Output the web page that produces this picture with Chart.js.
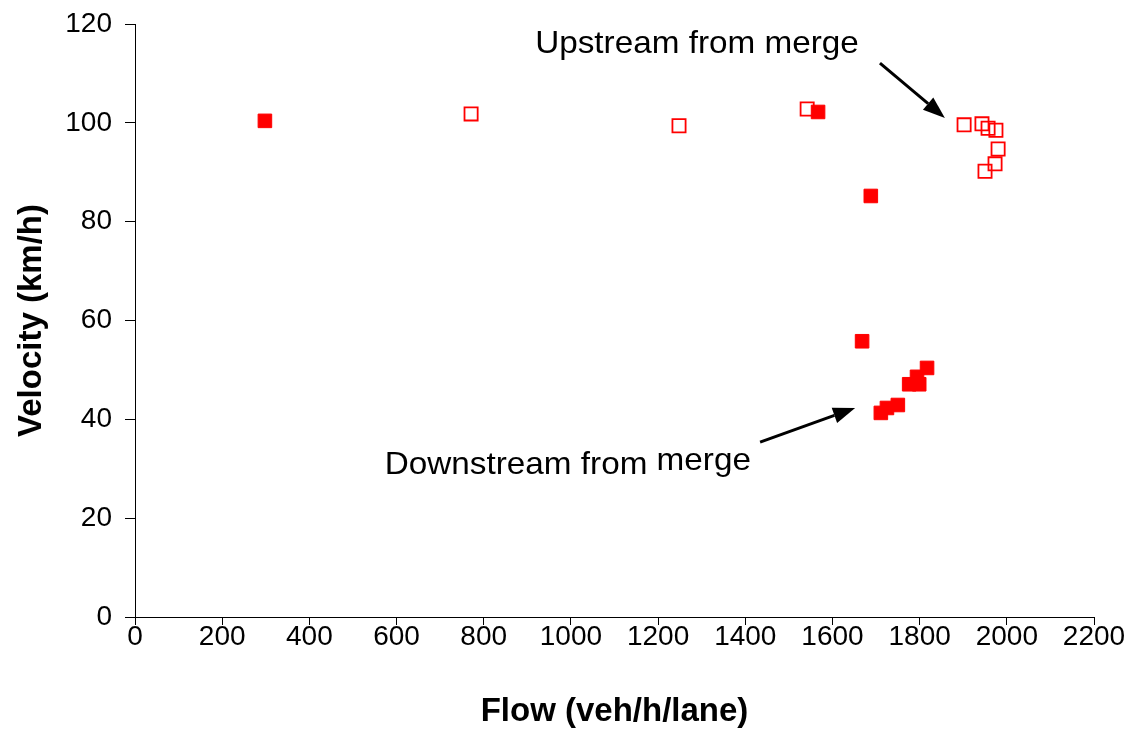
<!DOCTYPE html>
<html>
<head>
<meta charset="utf-8">
<script src="https://cdn.jsdelivr.net/npm/chart.js@4/dist/chart.umd.min.js"></script>
<style>
  html, body { margin: 0; padding: 0; background: #fff; }
  #wrap { width: 1137px; height: 729px; }
</style>
</head>
<body>
<div id="wrap"><canvas id="c" width="1137" height="729"></canvas></div>
<script>
// Upstream from merge (open squares)
const upstreamFlow = [771, 1248, 1542, 1902, 1943, 1957, 1975, 1980, 1973, 1950];
const upstreamVelocity = [101.8, 99.4, 102.8, 99.6, 99.8, 98.9, 98.5, 94.7, 91.7, 90.2];

// Downstream from merge (filled squares)
const downstreamFlow = [298, 1567, 1688, 1668, 1817, 1794, 1776, 1799, 1750, 1725, 1711];
const downstreamVelocity = [100.4, 102.2, 85.2, 55.8, 50.4, 48.6, 47.1, 47.1, 42.9, 42.3, 41.3];

const xTicks = [0, 200, 400, 600, 800, 1000, 1200, 1400, 1600, 1800, 2000, 2200];
const yTicks = [0, 20, 40, 60, 80, 100, 120];

const xTitle = 'Flow (veh/h/lane)';
const yTitle = 'Velocity (km/h)';

// Annotations (in data units); each has text parts with a vertical lift in px
const annotations = [
  { parts: [['Upstream from merge', 0]], x: 918, y: 114.1, from: [1709, 112.1], to: [1858, 101.0] },
  { parts: [['Downstream from ', 0], ['merge', 4]], x: 573, y: 29.0, from: [1434, 35.4], to: [1652, 42.3] }
];

const toPts = (xs, ys) => xs.map((x, i) => ({ x: x, y: ys[i] }));

const FONT = '"Liberation Sans", Arial, sans-serif';

const annotationPlugin = {
  id: 'annot',
  afterDatasetsDraw(chart) {
    const ctx = chart.ctx;
    const xs = chart.scales.x, ys = chart.scales.y;
    ctx.save();
    ctx.fillStyle = '#000';
    ctx.strokeStyle = '#000';
    ctx.font = '32px ' + FONT;
    ctx.textBaseline = 'alphabetic';
    ctx.textAlign = 'left';
    annotations.forEach(a => {
      let tx = xs.getPixelForValue(a.x);
      const ty = ys.getPixelForValue(a.y);
      a.parts.forEach(p => {
        ctx.save();
        ctx.translate(tx, ty - p[1]);
        ctx.scale(1.04, 1);
        ctx.fillText(p[0], 0, 0);
        ctx.restore();
        tx += ctx.measureText(p[0]).width * 1.04;
      });
      const x1 = xs.getPixelForValue(a.from[0]), y1 = ys.getPixelForValue(a.from[1]);
      const x2 = xs.getPixelForValue(a.to[0]), y2 = ys.getPixelForValue(a.to[1]);
      const ang = Math.atan2(y2 - y1, x2 - x1);
      const headLen = 22, headW = 8;
      const bx = x2 - headLen * Math.cos(ang), by = y2 - headLen * Math.sin(ang);
      ctx.lineWidth = 3;
      ctx.beginPath();
      ctx.moveTo(x1, y1);
      ctx.lineTo(bx, by);
      ctx.stroke();
      ctx.beginPath();
      ctx.moveTo(x2, y2);
      ctx.lineTo(bx + headW * Math.sin(ang), by - headW * Math.cos(ang));
      ctx.lineTo(bx - headW * Math.sin(ang), by + headW * Math.cos(ang));
      ctx.closePath();
      ctx.fill();
    });
    ctx.restore();
  }
};

new Chart(document.getElementById('c'), {
  type: 'scatter',
  data: {
    datasets: [
      {
        label: 'Upstream from merge',
        data: toPts(upstreamFlow, upstreamVelocity),
        pointStyle: 'rect',
        pointRadius: 9.3,
        pointHoverRadius: 9.3,
        backgroundColor: 'rgba(255,255,255,0)',
        borderColor: '#ff0000',
        borderWidth: 1.8
      },
      {
        label: 'Downstream from merge',
        data: toPts(downstreamFlow, downstreamVelocity),
        pointStyle: 'rect',
        pointRadius: 9.6,
        pointHoverRadius: 9.6,
        backgroundColor: '#ff0000',
        borderColor: '#ff0000',
        borderWidth: 1
      }
    ]
  },
  options: {
    responsive: false,
    animation: false,
    events: [],
    layout: { padding: { top: 24, right: 43, left: 0, bottom: 0 } },
    plugins: { legend: { display: false }, tooltip: { enabled: false } },
    scales: {
      x: {
        type: 'linear',
        min: 0, max: 2200,
        afterBuildTicks: s => { s.ticks = xTicks.map(v => ({ value: v })); },
        afterFit: s => { s.height = 112; s.paddingLeft = 0; s.paddingRight = 0; },
        ticks: { color: '#000', font: { family: FONT, size: 28 }, padding: -5, maxRotation: 0, autoSkip: false, callback: v => String(v) },
        grid: { display: true, drawOnChartArea: false, drawTicks: true, tickLength: 8, color: '#000', lineWidth: 1 },
        border: { display: true, color: '#000', width: 1 },
        title: { display: true, text: xTitle, color: '#000', font: { family: FONT, size: 33, weight: 'bold' }, padding: { top: 0, bottom: -3 } }
      },
      y: {
        type: 'linear',
        min: 0, max: 120,
        afterBuildTicks: s => { s.ticks = yTicks.map(v => ({ value: v })); },
        afterFit: s => { s.width = 135; s.paddingTop = 0; s.paddingBottom = 0; },
        ticks: { color: '#000', font: { family: FONT, size: 28 }, padding: 13, autoSkip: false, callback: v => String(v) },
        grid: { display: true, drawOnChartArea: false, drawTicks: true, tickLength: 10, color: '#000', lineWidth: 1 },
        border: { display: true, color: '#000', width: 1 },
        title: { display: true, text: yTitle, color: '#000', font: { family: FONT, size: 33, weight: 'bold' }, padding: { top: 12, bottom: 0 } }
      }
    }
  },
  plugins: [annotationPlugin]
});
</script>
</body>
</html>
